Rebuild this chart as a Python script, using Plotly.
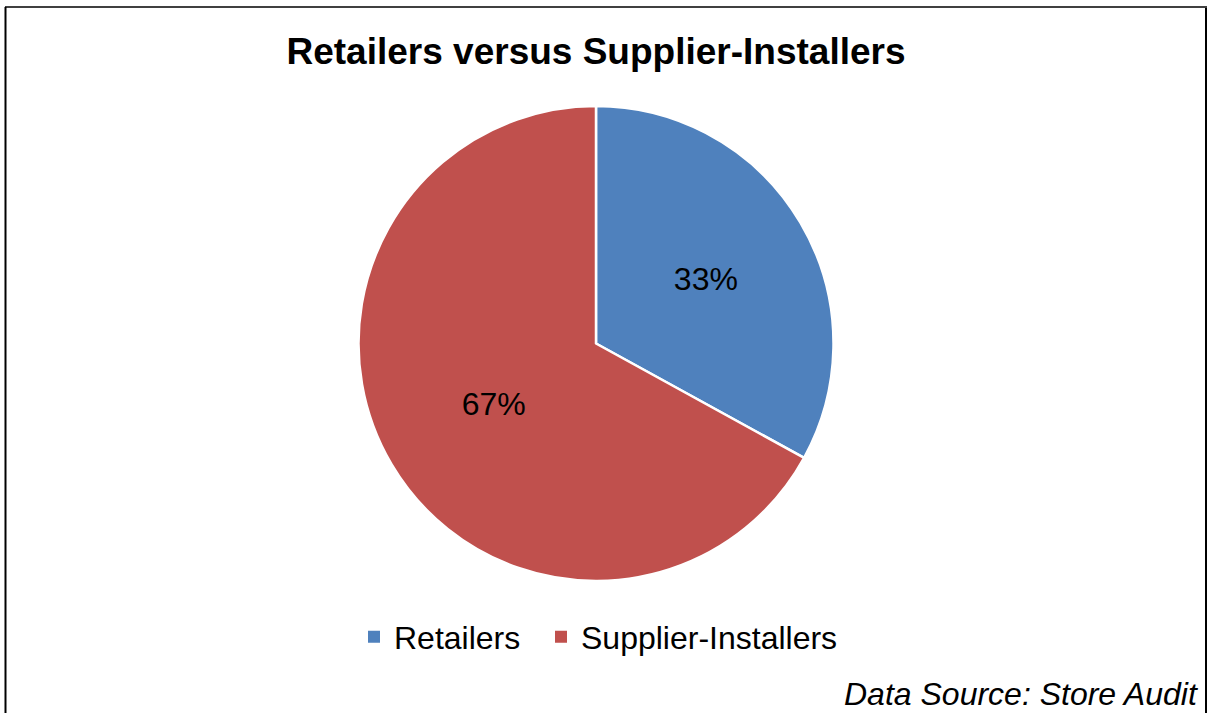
import plotly.graph_objects as go

# Chart data
categories = ["Retailers", "Supplier-Installers"]
shares = [33, 67]
slice_colors = ["#4F81BD", "#C0504D"]

title_text = "Retailers versus Supplier-Installers"
source_text = "Data Source: Store Audit"

W, H = 1209, 713
FONT = "Liberation Sans, Arial, sans-serif"


def px_x(x):
    return x / W


def px_y(y):
    return 1 - y / H


fig = go.Figure()

fig.add_trace(
    go.Pie(
        labels=categories,
        values=shares,
        sort=False,
        direction="clockwise",
        rotation=0,
        marker=dict(colors=slice_colors, line=dict(color="white", width=2.5)),
        textinfo="percent",
        textposition="inside",
        insidetextorientation="horizontal",
        textfont=dict(family=FONT, size=32, color="black"),
        domain=dict(x=[px_x(358), px_x(834)], y=[px_y(581), px_y(106)]),
        hoverinfo="label+percent",
        showlegend=False,
    )
)

# Legend entries with square swatches, one legend box per entry
legend_ids = ["legend", "legend2"]
for name, color, lg in zip(categories, slice_colors, legend_ids):
    fig.add_trace(
        go.Scatter(
            x=[None], y=[None],
            mode="markers",
            name=name,
            legend=lg,
            marker=dict(symbol="square", size=12, color=color),
            hoverinfo="skip",
        )
    )

# Outer frame (top, left and right edges)
frame = [
    dict(x0=px_x(5), x1=px_x(1207), y0=px_y(7), y1=px_y(7), w=1.5),
    dict(x0=px_x(5.5), x1=px_x(5.5), y0=px_y(7), y1=px_y(713), w=2),
    dict(x0=px_x(1206), x1=px_x(1206), y0=px_y(8), y1=px_y(713), w=2),
]
shapes = [
    dict(type="line", xref="paper", yref="paper", x0=f["x0"], x1=f["x1"],
         y0=f["y0"], y1=f["y1"], line=dict(color="black", width=f["w"]))
    for f in frame
]

legend_style = dict(
    orientation="h",
    xanchor="left",
    y=px_y(637), yanchor="middle",
    font=dict(size=32, color="black"),
    itemclick=False,
    itemdoubleclick=False,
    bgcolor="rgba(0,0,0,0)",
)

fig.update_layout(
    width=W,
    height=H,
    margin=dict(l=0, r=0, t=0, b=0),
    paper_bgcolor="white",
    plot_bgcolor="white",
    font=dict(family=FONT, color="black"),
    xaxis=dict(visible=False),
    yaxis=dict(visible=False),
    title=dict(
        text="<b>" + title_text + "</b>",
        x=px_x(596), xanchor="center",
        y=px_y(51), yanchor="middle",
        font=dict(size=37, color="black"),
    ),
    showlegend=True,
    legend=dict(x=px_x(354), **legend_style),
    legend2=dict(x=px_x(541), **legend_style),
    shapes=shapes,
    annotations=[
        dict(
            text="<i>" + source_text + "</i>",
            xref="paper", yref="paper",
            x=px_x(1199), xanchor="right",
            y=0, yanchor="bottom",
            borderpad=0,
            showarrow=False,
            font=dict(size=32, color="black"),
        )
    ],
)

fig.write_html("out.html")
